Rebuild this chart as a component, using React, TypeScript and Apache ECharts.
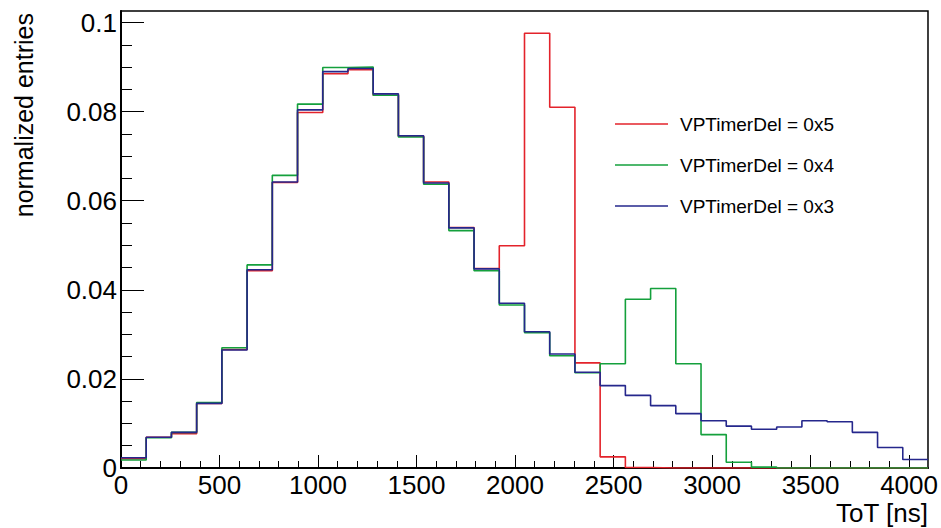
import React, { useEffect, useRef } from "react";
import * as echarts from "echarts";

// ToT histograms: 32 bins of 128 ns each, 0 .. 4096 ns, normalized to unit area
const binWidth = 128;
const xMax = 4096;
const yMax = 0.1026;

const seriesNames = ["VPTimerDel = 0x5", "VPTimerDel = 0x4", "VPTimerDel = 0x3"];
const seriesColors = ["#e3232b", "#14a03c", "#25278c"];

const timerDel5 = [
  0.0021, 0.0069, 0.0077, 0.0145, 0.0266, 0.0443, 0.0641, 0.0798,
  0.0885, 0.0894, 0.0837, 0.0745, 0.0642, 0.054, 0.0448, 0.0499,
  0.0976, 0.081, 0.0236, 0.0025, 0.0001, 0, 0, 0,
  0, 0, 0, 0, 0, 0, 0, 0,
];
const timerDel4 = [
  0.0018, 0.0068, 0.008, 0.0147, 0.027, 0.0456, 0.0657, 0.0817,
  0.0899, 0.09, 0.0837, 0.0743, 0.0637, 0.0533, 0.0443, 0.0366,
  0.0304, 0.0252, 0.0214, 0.0234, 0.0379, 0.0403, 0.0234, 0.0075,
  0.0013, 0.0002, 0, 0, 0, 0, 0, 0,
];
const timerDel3 = [
  0.0023, 0.0069, 0.008, 0.0145, 0.0265, 0.0445, 0.0642, 0.0804,
  0.089, 0.0897, 0.084, 0.0746, 0.064, 0.0539, 0.0447, 0.037,
  0.0306, 0.0256, 0.0215, 0.0185, 0.0163, 0.014, 0.0122, 0.0106,
  0.0094, 0.0087, 0.0092, 0.0106, 0.0104, 0.008, 0.0046, 0.0019,
];

const xMajorTicks = [0, 500, 1000, 1500, 2000, 2500, 3000, 3500, 4000];
const yMajorTicks = [0, 0.02, 0.04, 0.06, 0.08, 0.1];
const xMinorDivisions = 5;
const yMinorDivisions = 4;

function minorTicks(majors: number[], divisions: number): number[] {
  const out: number[] = [];
  for (let i = 0; i < majors.length - 1; i++) {
    const step = (majors[i + 1] - majors[i]) / divisions;
    for (let k = 1; k < divisions; k++) out.push(+(majors[i] + k * step).toFixed(6));
  }
  return out;
}

// left bin edges paired with contents, closed at the upper range edge
function histSteps(values: number[]): number[][] {
  const pts = values.map((v, i) => [i * binWidth, v]);
  pts.push([xMax, values[values.length - 1]]);
  return pts;
}

const FONT = '"Liberation Sans", Arial, Helvetica, sans-serif';

export default function App() {
  const ref = useRef<HTMLDivElement>(null);

  useEffect(() => {
    const chart = echarts.init(ref.current!, null, { renderer: "svg" });
    const tickLine = { color: "#000", width: 1 };
    const datasets = [timerDel5, timerDel4, timerDel3];

    chart.setOption({
      animation: false,
      backgroundColor: "#ffffff",
      grid: {
        left: 121,
        right: 13,
        top: 11,
        bottom: 60,
        show: true,
        borderColor: "#000",
        borderWidth: 1.5,
        backgroundColor: "transparent",
      },
      legend: {
        orient: "vertical",
        left: 615,
        top: 114,
        padding: 0,
        icon: "rect",
        itemWidth: 53,
        itemHeight: 1.6,
        itemGap: 21,
        selectedMode: false,
        data: seriesNames,
        textStyle: {
          fontSize: 19,
          fontFamily: FONT,
          color: "#000",
          lineHeight: 20,
          padding: [0, 0, 0, 7],
        },
      },
      xAxis: [
        {
          type: "value",
          min: 0,
          max: xMax,
          position: "bottom",
          axisLine: { show: true, onZero: false, lineStyle: { color: "#000", width: 2 } },
          axisTick: { show: true, inside: true, length: 13, customValues: xMajorTicks, lineStyle: tickLine },
          axisLabel: {
            show: true,
            customValues: xMajorTicks,
            fontSize: 26,
            fontFamily: FONT,
            color: "#000",
            margin: 4,
            formatter: (v: number) => String(v),
          },
          splitLine: { show: false },
        },
        {
          type: "value",
          min: 0,
          max: xMax,
          position: "bottom",
          axisLine: { show: false },
          axisTick: {
            show: true,
            inside: true,
            length: 7,
            customValues: minorTicks(xMajorTicks, xMinorDivisions),
            lineStyle: tickLine,
          },
          axisLabel: { show: false },
          splitLine: { show: false },
        },
      ],
      yAxis: [
        {
          type: "value",
          min: 0,
          max: yMax,
          position: "left",
          axisLine: { show: true, onZero: false, lineStyle: { color: "#000", width: 2 } },
          axisTick: { show: true, inside: true, length: 23, customValues: yMajorTicks, lineStyle: tickLine },
          axisLabel: {
            show: true,
            customValues: yMajorTicks,
            fontSize: 26,
            fontFamily: FONT,
            color: "#000",
            margin: 4,
            formatter: (v: number) => String(v),
          },
          splitLine: { show: false },
        },
        {
          type: "value",
          min: 0,
          max: yMax,
          position: "left",
          axisLine: { show: false },
          axisTick: {
            show: true,
            inside: true,
            length: 11,
            customValues: minorTicks(yMajorTicks, yMinorDivisions),
            lineStyle: tickLine,
          },
          axisLabel: { show: false },
          splitLine: { show: false },
        },
      ],
      series: datasets.map((values, i) => ({
        name: seriesNames[i],
        type: "line",
        xAxisIndex: 0,
        yAxisIndex: 0,
        step: "end",
        symbol: "none",
        color: seriesColors[i],
        itemStyle: { color: seriesColors[i] },
        lineStyle: { color: seriesColors[i], width: 1.6 },
        data: histSteps(values),
        z: 2 + i,
      })),
      graphic: [
        {
          type: "text",
          x: 24,
          y: 13,
          rotation: Math.PI / 2,
          style: {
            text: "normalized entries",
            fontSize: 25,
            fontFamily: FONT,
            fill: "#000",
            align: "right",
            verticalAlign: "middle",
          },
        },
        {
          type: "text",
          x: 928,
          y: 513,
          style: {
            text: "ToT [ns]",
            fontSize: 26,
            fontFamily: FONT,
            fill: "#000",
            align: "right",
            verticalAlign: "middle",
          },
        },
      ],
    });

    return () => chart.dispose();
  }, []);

  return (
    <div
      ref={ref}
      style={{ position: "fixed", left: 0, top: 0, width: 941, height: 528 }}
    />
  );
}
